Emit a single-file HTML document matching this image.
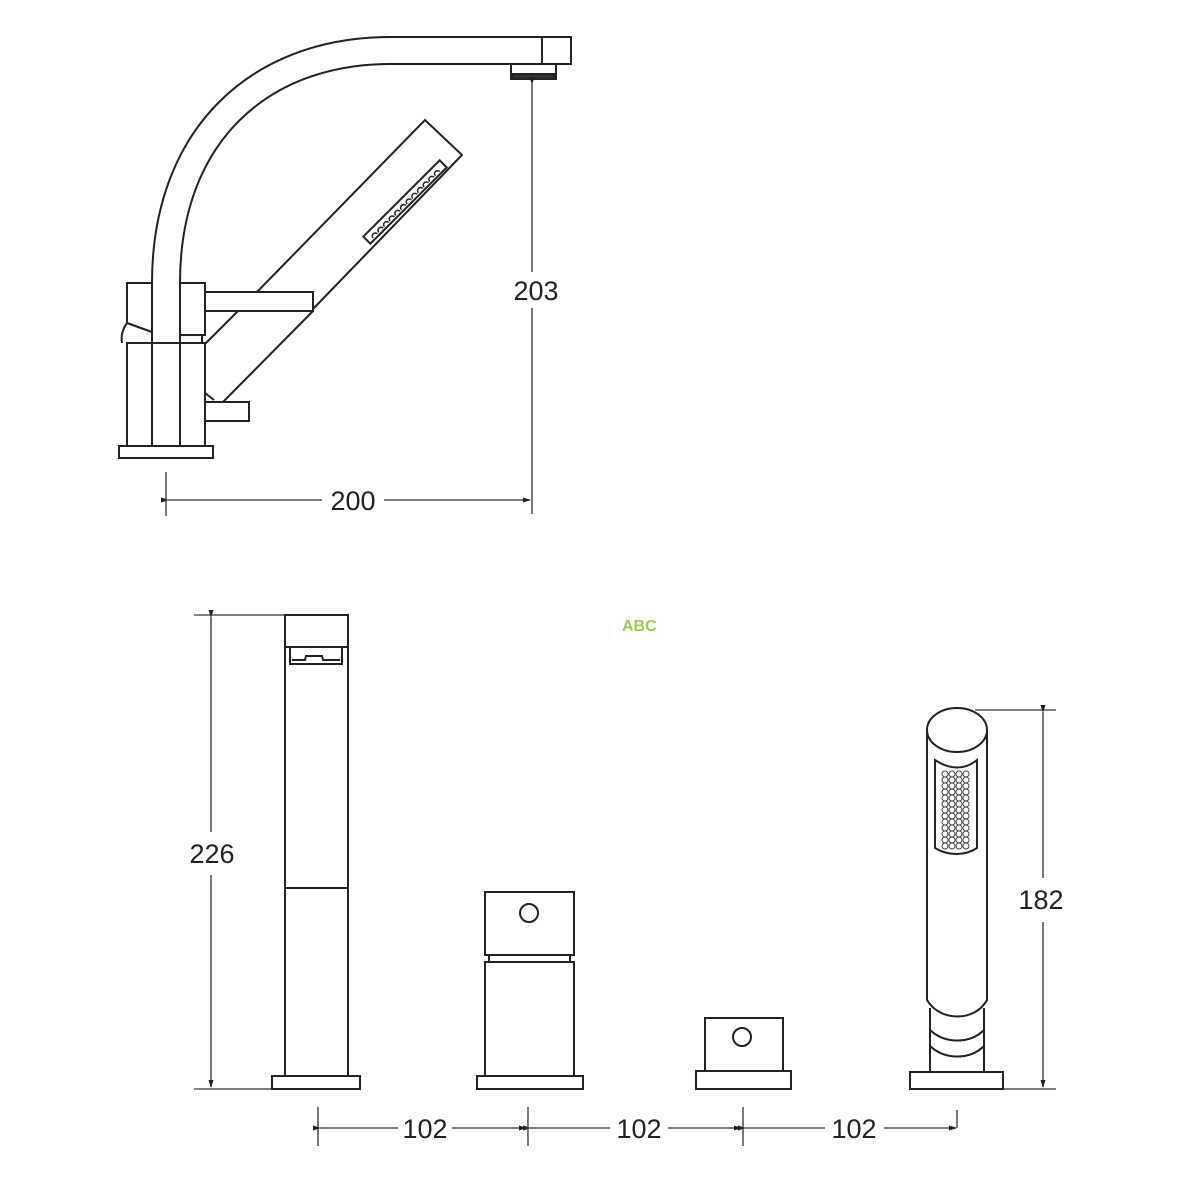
<!DOCTYPE html>
<html><head><meta charset="utf-8"><style>
html,body{margin:0;padding:0;background:#fff;}
svg{display:block}
text{font-family:"Liberation Sans",Arial,sans-serif;font-size:27px;fill:#222}
</style></head><body>
<svg width="1200" height="1200" viewBox="0 0 1200 1200" xmlns="http://www.w3.org/2000/svg">
<defs>
<marker id="a" markerWidth="8" markerHeight="8" refX="7" refY="4" orient="auto" markerUnits="userSpaceOnUse"><path d="M0,1.5 L8,4 L0,6.5 z" fill="#222"/></marker>
</defs>
<g fill="none" stroke="#222" stroke-width="2">
<!-- TOP DRAWING -->
<path d="M152,283 C152,130 250,37 390,37 L571,37 L571,64 L542,64 M542,37 L542,64 L390,64 C270,64 180,140 180,283"/>
<rect x="511" y="64" width="45" height="15"/>
<rect x="513" y="74" width="41" height="5" fill="#333"/>
<line x1="152" y1="283" x2="152" y2="446"/>
<line x1="180" y1="283" x2="180" y2="446"/>
<path d="M152,283 L127,283 L127,323 L152,332"/>
<path d="M127,323 C122,330 121,337 122,343"/>
<path d="M180,283 L205,283 L205,335 L180,335"/>
<path d="M180,343 L202,343 L202,335"/>
<rect x="127" y="343" width="78" height="103"/>
<rect x="119" y="446" width="94" height="12"/>
<path d="M257,292 L425,120 L462,155 L313,309"/>
<path d="M313,311 L223,402"/>
<rect x="205" y="292" width="108" height="19" fill="#fff"/>
<rect x="205" y="402" width="44" height="19"/>
<path d="M238,311 L205,344"/>
<path d="M205,393 L214,400"/>
<g transform="translate(405,202) rotate(-45)">
<rect x="-54" y="-5" width="108" height="10"/>
<path d="M-48,3 a3,3 0 1,1 6,0 M-40,3 a3,3 0 1,1 6,0 M-32,3 a3,3 0 1,1 6,0 M-24,3 a3,3 0 1,1 6,0 M-16,3 a3,3 0 1,1 6,0 M-8,3 a3,3 0 1,1 6,0 M0,3 a3,3 0 1,1 6,0 M8,3 a3,3 0 1,1 6,0 M16,3 a3,3 0 1,1 6,0 M24,3 a3,3 0 1,1 6,0 M32,3 a3,3 0 1,1 6,0 M40,3 a3,3 0 1,1 6,0" stroke-width="1.5"/>
</g>
</g>
<g fill="none" stroke="#333" stroke-width="1.3">
<line x1="532" y1="84" x2="532" y2="272" marker-start="url(#a)"/>
<line x1="532" y1="308" x2="532" y2="514"/>
<line x1="166" y1="472" x2="166" y2="516"/>
<line x1="168" y1="500" x2="322" y2="500" marker-start="url(#a)"/>
<line x1="384" y1="500" x2="530" y2="500" marker-end="url(#a)"/>
</g>
<text x="536" y="300" text-anchor="middle">203</text>
<text x="353" y="510" text-anchor="middle">200</text>

<!-- BOTTOM DRAWING -->
<g fill="none" stroke="#222" stroke-width="2">
<rect x="285" y="615" width="63" height="461"/>
<line x1="285" y1="647" x2="348" y2="647"/>
<path d="M290,648 L290,664 L342,664 L342,648"/>
<path d="M292,660 L305,660 L306,656 L322,656 L323,660 L340,660"/>
<line x1="285" y1="888" x2="348" y2="888"/>
<rect x="272" y="1076" width="88" height="13"/>

<rect x="485" y="892" width="89" height="63"/>
<circle cx="529" cy="913" r="9"/>
<rect x="489" y="955" width="81" height="7"/>
<rect x="485" y="962" width="89" height="114"/>
<rect x="477" y="1076" width="106" height="13"/>

<rect x="705" y="1018" width="78" height="53"/>
<circle cx="742" cy="1037" r="9"/>
<rect x="696" y="1071" width="95" height="18"/>

<path d="M927,730 L927,1000 C940,1022 975,1022 987,1000 L987,730"/>
<ellipse cx="957" cy="730" rx="30" ry="22"/>
<path d="M935,760 C950,770 965,770 977,760 L977,848 C965,856 948,856 935,848 Z"/>
<path d="M930,1008 L930,1072 M984,1008 L984,1072"/>
<path d="M930,1030 C945,1044 970,1044 984,1030"/>
<path d="M930,1046 C945,1060 970,1060 984,1046"/>
<rect x="910" y="1072" width="93" height="17"/>
</g>
<g fill="none" stroke="#444" stroke-width="1">
<circle cx="945" cy="774" r="3"/><circle cx="952" cy="774" r="3"/><circle cx="959" cy="774" r="3"/><circle cx="966" cy="774" r="3"/>
<circle cx="945" cy="780" r="3"/><circle cx="952" cy="780" r="3"/><circle cx="959" cy="780" r="3"/><circle cx="966" cy="780" r="3"/>
<circle cx="945" cy="786" r="3"/><circle cx="952" cy="786" r="3"/><circle cx="959" cy="786" r="3"/><circle cx="966" cy="786" r="3"/>
<circle cx="945" cy="792" r="3"/><circle cx="952" cy="792" r="3"/><circle cx="959" cy="792" r="3"/><circle cx="966" cy="792" r="3"/>
<circle cx="945" cy="798" r="3"/><circle cx="952" cy="798" r="3"/><circle cx="959" cy="798" r="3"/><circle cx="966" cy="798" r="3"/>
<circle cx="945" cy="804" r="3"/><circle cx="952" cy="804" r="3"/><circle cx="959" cy="804" r="3"/><circle cx="966" cy="804" r="3"/>
<circle cx="945" cy="810" r="3"/><circle cx="952" cy="810" r="3"/><circle cx="959" cy="810" r="3"/><circle cx="966" cy="810" r="3"/>
<circle cx="945" cy="816" r="3"/><circle cx="952" cy="816" r="3"/><circle cx="959" cy="816" r="3"/><circle cx="966" cy="816" r="3"/>
<circle cx="945" cy="822" r="3"/><circle cx="952" cy="822" r="3"/><circle cx="959" cy="822" r="3"/><circle cx="966" cy="822" r="3"/>
<circle cx="945" cy="828" r="3"/><circle cx="952" cy="828" r="3"/><circle cx="959" cy="828" r="3"/><circle cx="966" cy="828" r="3"/>
<circle cx="945" cy="834" r="3"/><circle cx="952" cy="834" r="3"/><circle cx="959" cy="834" r="3"/><circle cx="966" cy="834" r="3"/>
<circle cx="945" cy="840" r="3"/><circle cx="952" cy="840" r="3"/><circle cx="959" cy="840" r="3"/><circle cx="966" cy="840" r="3"/>
<circle cx="945" cy="846" r="3"/><circle cx="952" cy="846" r="3"/><circle cx="959" cy="846" r="3"/><circle cx="966" cy="846" r="3"/>
</g>
<g fill="none" stroke="#333" stroke-width="1.3">
<line x1="194" y1="615" x2="285" y2="615"/>
<line x1="194" y1="1089" x2="272" y2="1089"/>
<line x1="211" y1="617" x2="211" y2="832" marker-start="url(#a)"/>
<line x1="211" y1="875" x2="211" y2="1087" marker-end="url(#a)"/>
<line x1="975" y1="710" x2="1056" y2="710"/>
<line x1="1003" y1="1089" x2="1056" y2="1089"/>
<line x1="1043" y1="712" x2="1043" y2="878" marker-start="url(#a)"/>
<line x1="1043" y1="922" x2="1043" y2="1087" marker-end="url(#a)"/>
<line x1="318" y1="1107" x2="318" y2="1146"/>
<line x1="528" y1="1107" x2="528" y2="1146"/>
<line x1="743" y1="1107" x2="743" y2="1146"/>
<line x1="957" y1="1110" x2="957" y2="1128"/>
<line x1="320" y1="1128" x2="398" y2="1128" marker-start="url(#a)"/>
<line x1="452" y1="1128" x2="526" y2="1128" marker-end="url(#a)"/>
<line x1="530" y1="1128" x2="610" y2="1128" marker-start="url(#a)"/>
<line x1="668" y1="1128" x2="741" y2="1128" marker-end="url(#a)"/>
<line x1="745" y1="1128" x2="825" y2="1128" marker-start="url(#a)"/>
<line x1="884" y1="1128" x2="956" y2="1128" marker-end="url(#a)"/>
</g>
<text x="212" y="863" text-anchor="middle">226</text>
<text x="1041" y="909" text-anchor="middle">182</text>
<text x="425" y="1138" text-anchor="middle">102</text>
<text x="639" y="1138" text-anchor="middle">102</text>
<text x="854" y="1138" text-anchor="middle">102</text>
<text x="622" y="631" text-anchor="start" style="font-size:16px;font-weight:bold;fill:#9acd4a">ABC</text>
</svg>
</body></html>
